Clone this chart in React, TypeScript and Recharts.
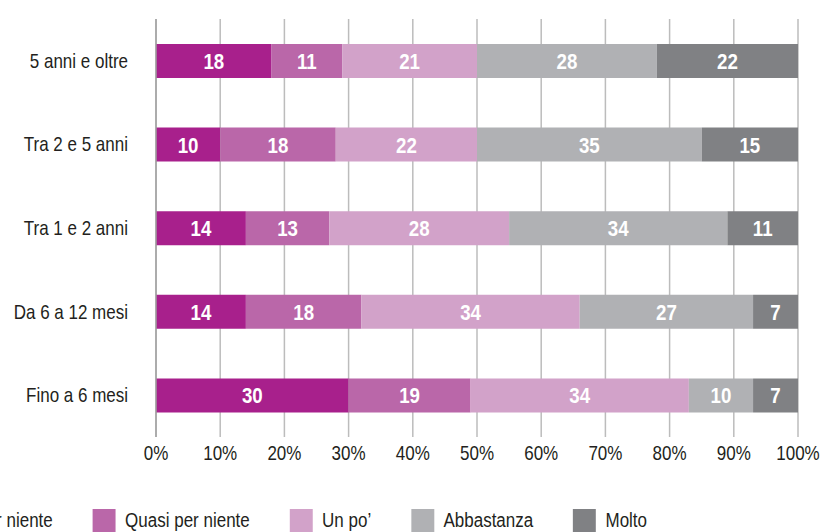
import React from 'react';
import { BarChart, Bar, XAxis, YAxis, CartesianGrid, LabelList } from 'recharts';

const categories = ['5 anni e oltre', 'Tra 2 e 5 anni', 'Tra 1 e 2 anni', 'Da 6 a 12 mesi', 'Fino a 6 mesi'];
const perNiente = [18, 10, 14, 14, 30];
const quasiPerNiente = [11, 18, 13, 18, 19];
const unPo = [21, 22, 28, 34, 34];
const abbastanza = [28, 35, 34, 27, 10];
const molto = [22, 15, 11, 7, 7];
const xTicks = [0, 10, 20, 30, 40, 50, 60, 70, 80, 90, 100];

const series = [
  { key: 'perNiente', name: 'Per niente', values: perNiente, color: '#A8208C' },
  { key: 'quasi', name: 'Quasi per niente', values: quasiPerNiente, color: '#BA67A9' },
  { key: 'unPo', name: 'Un po\u2019', values: unPo, color: '#D2A2C9' },
  { key: 'abbastanza', name: 'Abbastanza', values: abbastanza, color: '#B0B1B4' },
  { key: 'molto', name: 'Molto', values: molto, color: '#808184' },
];

const data = categories.map((name, i) => {
  const row: Record<string, string | number> = { name };
  series.forEach((s) => {
    row[s.key] = s.values[i];
  });
  return row;
});

// no condensed font installed, so squeeze Liberation Sans horizontally
const FONT = '"Liberation Sans", Arial, sans-serif';
const SQUEEZE = 0.85;
const TEXT = '#231f20';

const YTick = (props: any) => {
  const { x, y, payload } = props;
  return (
    <g transform={`translate(${x},${y}) scale(${SQUEEZE},1)`}>
      <text textAnchor="end" dy="0.35em" fill={TEXT} fontSize={20} fontFamily={FONT}>
        {payload.value}
      </text>
    </g>
  );
};

const XTick = (props: any) => {
  const { x, y, payload } = props;
  return (
    <g transform={`translate(${x},${y}) scale(${SQUEEZE},1)`}>
      <text textAnchor="middle" dy="0.71em" fill={TEXT} fontSize={20} fontFamily={FONT}>
        {`${payload.value}%`}
      </text>
    </g>
  );
};

const ValueLabel = (props: any) => {
  const { x, y, width, height, value } = props;
  const cx = Number(x) + Number(width) / 2;
  const cy = Number(y) + Number(height) / 2;
  return (
    <g transform={`translate(${cx},${cy}) scale(${SQUEEZE},1)`}>
      <text textAnchor="middle" dy="0.36em" fill="#ffffff" fontSize={22} fontWeight="bold" fontFamily={FONT}>
        {value}
      </text>
    </g>
  );
};

const App: React.FC = () => {
  return (
    <div
      style={{
        position: 'absolute',
        left: 0,
        top: 0,
        width: 822,
        height: 532,
        overflow: 'hidden',
        background: '#fff',
        fontFamily: FONT,
      }}
    >
      <BarChart
        width={822}
        height={532}
        data={data}
        layout="vertical"
        barCategoryGap={0}
        margin={{ top: 19, right: 24, bottom: 65, left: 0 }}
      >
        <CartesianGrid horizontal={false} stroke="#bcbcbc" strokeWidth={1.5} />
        <XAxis
          type="number"
          domain={[0, 100]}
          ticks={xTicks}
          axisLine={false}
          tickLine={false}
          tickSize={0}
          tickMargin={9}
          height={30}
          tick={<XTick />}
          interval={0}
        />
        <YAxis
          type="category"
          dataKey="name"
          width={156}
          axisLine={{ stroke: '#a0a0a0', strokeWidth: 1.5 }}
          tickLine={false}
          tickSize={0}
          tickMargin={28}
          tick={<YTick />}
        />
        {series.map((s) => (
          <Bar
            key={s.key}
            dataKey={s.key}
            name={s.name}
            stackId="a"
            fill={s.color}
            barSize={34}
            isAnimationActive={false}
          >
            <LabelList dataKey={s.key} content={<ValueLabel />} />
          </Bar>
        ))}
      </BarChart>
      {/* legend starts left of the page edge, like the source */}
      <div
        style={{
          position: 'absolute',
          left: -57,
          top: 509,
          display: 'flex',
          alignItems: 'center',
          whiteSpace: 'nowrap',
          transform: `scale(${SQUEEZE},1)`,
          transformOrigin: 'left top',
        }}
      >
        {series.map((s) => (
          <div key={s.key} style={{ display: 'flex', alignItems: 'center', marginRight: 47 }}>
            <div style={{ width: 27, height: 23, background: s.color, marginRight: 11 }} />
            <span style={{ fontSize: 20, color: TEXT, lineHeight: '23px' }}>{s.name}</span>
          </div>
        ))}
      </div>
    </div>
  );
};

export default App;
